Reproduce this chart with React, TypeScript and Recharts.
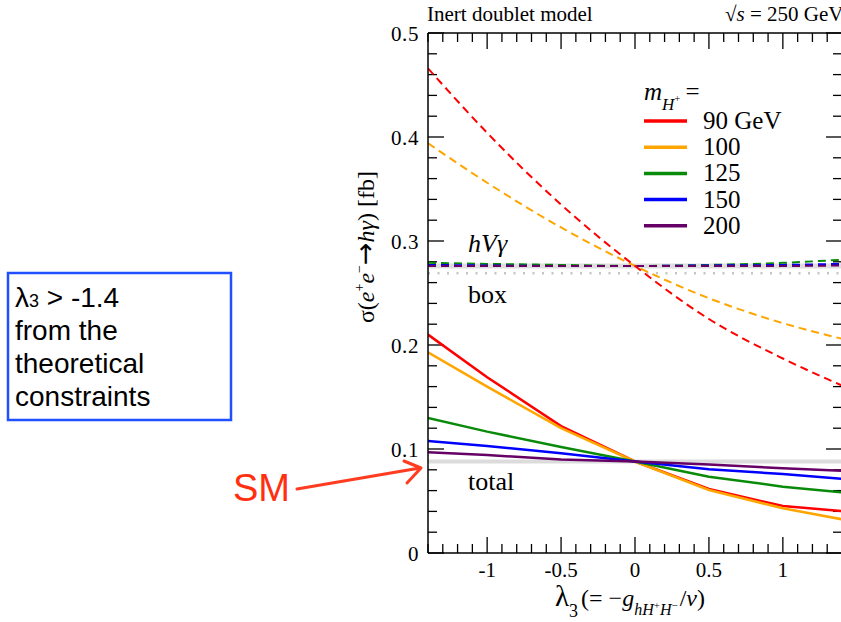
import React from "react";
import { ComposedChart, Line, XAxis, YAxis, ReferenceLine } from "recharts";

// λ3 sample points
const LAMBDA3 = [-1.4, -1, -0.5, 0, 0.5, 1, 1.4];

const MASS_LABELS = ["90 GeV", "100", "125", "150", "200"];
const COLORS = ["#ff0000", "#ffa500", "#0a8a0a", "#0000ff", "#660066"];

// hVγ contribution (dashed)
const HVG_90 = [0.466, 0.404, 0.335, 0.276, 0.225, 0.187, 0.161];
const HVG_100 = [0.394, 0.356, 0.313, 0.276, 0.245, 0.221, 0.206];
const HVG_125 = [0.279, 0.278, 0.277, 0.276, 0.277, 0.279, 0.282];
const HVG_150 = [0.277, 0.2765, 0.276, 0.276, 0.2765, 0.277, 0.278];
const HVG_200 = [0.276, 0.276, 0.276, 0.276, 0.276, 0.276, 0.2765];

// total (solid)
const TOTAL_90 = [0.21, 0.169, 0.122, 0.088, 0.0615, 0.0452, 0.0404];
const TOTAL_100 = [0.193, 0.16, 0.12, 0.088, 0.0606, 0.043, 0.0324];
const TOTAL_125 = [0.1298, 0.1167, 0.102, 0.088, 0.0734, 0.0638, 0.0583];
const TOTAL_150 = [0.1077, 0.1029, 0.0959, 0.088, 0.0805, 0.076, 0.0712];
const TOTAL_200 = [0.0968, 0.0942, 0.09, 0.088, 0.085, 0.0816, 0.079];

// SM reference values
const SM_HVG = 0.276;
const SM_BOX = 0.269;
const SM_TOTAL = 0.088;

const X_DOMAIN = [-1.4, 1.4];
const Y_DOMAIN = [0, 0.5];
const X_LABELS = [-1, -0.5, 0, 0.5, 1];
const Y_LABELS = [0, 0.1, 0.2, 0.3, 0.4, 0.5];
const X_MINOR = Array.from({ length: 29 }, (_, i) => Math.round((-1.4 + i * 0.1) * 10) / 10);
const Y_MINOR = Array.from({ length: 26 }, (_, i) => (i * 2) / 100);

const HVG = [HVG_90, HVG_100, HVG_125, HVG_150, HVG_200];
const TOTAL = [TOTAL_90, TOTAL_100, TOTAL_125, TOTAL_150, TOTAL_200];

const data = LAMBDA3.map((l, i) => {
  const row: Record<string, number> = { l, smHvg: SM_HVG, smBox: SM_BOX, smTot: SM_TOTAL };
  HVG.forEach((s, j) => (row[`h${j}`] = s[i]));
  TOTAL.forEach((s, j) => (row[`t${j}`] = s[i]));
  return row;
});

// plot frame (px)
const PL = 428, PR = 842, PT = 33, PB = 553;
const SERIF = "'Liberation Serif', 'Times New Roman', serif";
const SANS = "'Liberation Sans', Arial, sans-serif";

const near = (a: number, b: number) => Math.abs(a - b) < 1e-6;
const majorX = (v: number) => near(v * 2, Math.round(v * 2));
const majorY = (v: number) => near(v * 10, Math.round(v * 10));

// inward tick marks as short segments in data units
const X_PER_PX = (X_DOMAIN[1] - X_DOMAIN[0]) / (PR - PL);
const Y_PER_PX = (Y_DOMAIN[1] - Y_DOMAIN[0]) / (PB - PT);
type Pt = { x: number; y: number };
const tickSegs: [Pt, Pt][] = [];
for (const v of X_MINOR) {
  const d = (majorX(v) ? 16 : 9) * Y_PER_PX;
  tickSegs.push([{ x: v, y: Y_DOMAIN[0] }, { x: v, y: Y_DOMAIN[0] + d }]);
  tickSegs.push([{ x: v, y: Y_DOMAIN[1] }, { x: v, y: Y_DOMAIN[1] - d }]);
}
for (const v of Y_MINOR) {
  const d = (majorY(v) ? 16 : 9) * X_PER_PX;
  tickSegs.push([{ x: X_DOMAIN[0], y: v }, { x: X_DOMAIN[0] + d, y: v }]);
  tickSegs.push([{ x: X_DOMAIN[1], y: v }, { x: X_DOMAIN[1] - d, y: v }]);
}

function BottomTick({ x, payload }: any) {
  return (
    <text x={x} y={PB + 24} textAnchor="middle" fontFamily={SERIF} fontSize={21} fill="#000">
      {String(payload.value)}
    </text>
  );
}

function LeftTick({ y, payload }: any) {
  return (
    <text x={PL - 9} y={y + 8} textAnchor="end" fontFamily={SERIF} fontSize={21} letterSpacing={0.6} fill="#000">
      {String(payload.value)}
    </text>
  );
}

function Overlay() {
  return (
    <svg width={841} height={622} style={{ position: "absolute", left: 0, top: 0, pointerEvents: "none" }}>
      {/* header */}
      <text x={427} y={21} fontFamily={SERIF} fontSize={21}>Inert doublet model</text>
      <text x={725} y={21} fontFamily={SERIF} fontSize={21}>
        √<tspan fontStyle="italic">s</tspan> = 250 GeV
      </text>

      {/* legend */}
      <text x={644} y={100} fontFamily={SERIF} fontSize={25}>
        <tspan fontStyle="italic">m</tspan>
        <tspan fontStyle="italic" fontSize={17} dy={10}>H</tspan>
        <tspan fontSize={11} dy={-8}>+</tspan>
        <tspan dy={-2} dx={5}>=</tspan>
      </text>
      {MASS_LABELS.map((m, i) => {
        const y = 121 + i * 26.2;
        return (
          <g key={m}>
            <line x1={644} x2={687} y1={y} y2={y} stroke={COLORS[i]} strokeWidth={3.5} />
            <text x={703} y={y + 8} fontFamily={SERIF} fontSize={25}>{m}</text>
          </g>
        );
      })}

      {/* curve labels */}
      <text x={468} y={252} fontFamily={SERIF} fontSize={26} fontStyle="italic">hVγ</text>
      <text x={468} y={303} fontFamily={SERIF} fontSize={26}>box</text>
      <text x={468} y={490} fontFamily={SERIF} fontSize={26}>total</text>

      {/* y label */}
      <text transform="translate(374,247) rotate(-90)" textAnchor="middle" fontFamily={SERIF} fontSize={24}>
        σ(<tspan fontStyle="italic">e</tspan>
        <tspan fontSize={14} dy={-10}>+</tspan>
        <tspan fontStyle="italic" dy={10}>e</tspan>
        <tspan fontSize={14} dy={-10}>−</tspan>
        <tspan dy={10} fontFamily="'DejaVu Sans', sans-serif" fontSize={27}>→</tspan>
        <tspan fontStyle="italic">hγ</tspan>) [fb]
      </text>

      {/* x label */}
      <text x={555} y={606} fontFamily={SERIF} fontSize={24}>
        <tspan fontSize={29}>λ</tspan>
        <tspan fontSize={18} dy={11}>3</tspan>
        <tspan dy={-11} dx={3}>(= −</tspan>
        <tspan fontStyle="italic">g</tspan>
        <tspan fontSize={16} fontStyle="italic" dy={9}>hH</tspan>
        <tspan fontSize={11} dy={-6}>+</tspan>
        <tspan fontSize={16} fontStyle="italic" dy={6}>H</tspan>
        <tspan fontSize={11} dy={-6}>−</tspan>
        <tspan dy={-3} dx={2}>/</tspan>
        <tspan fontStyle="italic">v</tspan>
        <tspan>)</tspan>
      </text>

      {/* constraint box */}
      <rect x={8} y={273} width={223} height={147} fill="none" stroke="#1f4fff" strokeWidth={2.5} />
      <text fontFamily={SANS} fontSize={28} fill="#000">
        <tspan x={15} y={307}>λ<tspan fontSize={18}>3</tspan> &gt; -1.4</tspan>
        <tspan x={15} y={340}>from the</tspan>
        <tspan x={15} y={373}>theoretical</tspan>
        <tspan x={15} y={406}>constraints</tspan>
      </text>

      {/* SM arrow */}
      <text x={233} y={501} fontFamily={SANS} fontSize={38} fill="#ff3010">SM</text>
      <path d="M 297 489 L 420 468 M 404 461 L 421 468 L 407 483" fill="none" stroke="#ff3b20" strokeWidth={3} strokeLinecap="round" strokeLinejoin="round" />
    </svg>
  );
}

export default function App() {
  const axisLine = { stroke: "#000", strokeWidth: 1.5 };
  return (
    <div style={{ position: "absolute", left: 0, top: 0, width: 841, height: 622, overflow: "hidden", background: "#fff" }}>
      <ComposedChart width={900} height={622} data={data} margin={{ top: PT, right: 900 - PR, bottom: 622 - PB - 30, left: PL - 40 }}>
        <XAxis xAxisId="b" dataKey="l" type="number" domain={X_DOMAIN} allowDataOverflow ticks={X_LABELS} interval={0}
          height={30} tickLine={false} axisLine={axisLine} tick={<BottomTick />} />
        <YAxis yAxisId="l" type="number" domain={Y_DOMAIN} allowDataOverflow ticks={Y_LABELS} interval={0}
          width={40} tickLine={false} axisLine={axisLine} tick={<LeftTick />} />

        {/* top / right frame */}
        <ReferenceLine xAxisId="b" yAxisId="l" y={Y_DOMAIN[1]} stroke="#000" strokeWidth={1.5} />
        <ReferenceLine xAxisId="b" yAxisId="l" x={X_DOMAIN[1]} stroke="#000" strokeWidth={1.5} />
        {tickSegs.map((seg, i) => (
          <ReferenceLine key={`tk${i}`} xAxisId="b" yAxisId="l" segment={seg} stroke="#000" strokeWidth={1.3} ifOverflow="visible" />
        ))}

        {/* SM reference lines */}
        <Line xAxisId="b" yAxisId="l" dataKey="smHvg" stroke="#dedede" strokeWidth={5} dot={false} isAnimationActive={false} />
        <Line xAxisId="b" yAxisId="l" dataKey="smBox" stroke="#c4c4c4" strokeWidth={2.5} strokeDasharray="2 7.5" dot={false} isAnimationActive={false} />
        <Line xAxisId="b" yAxisId="l" dataKey="smTot" stroke="#dcdcdc" strokeWidth={4} dot={false} isAnimationActive={false} />

        {/* hVγ, dashed */}
        {[2, 3, 4, 1, 0].map((j) => (
          <Line key={`h${j}`} xAxisId="b" yAxisId="l" dataKey={`h${j}`} type="monotone" stroke={COLORS[j]} strokeWidth={2}
            strokeDasharray="8 5" dot={false} isAnimationActive={false} />
        ))}

        {/* total, solid */}
        {[0, 1, 2, 3, 4].map((j) => (
          <Line key={`t${j}`} xAxisId="b" yAxisId="l" dataKey={`t${j}`} type="linear" stroke={COLORS[j]} strokeWidth={2.5}
            dot={false} isAnimationActive={false} />
        ))}
      </ComposedChart>
      <Overlay />
    </div>
  );
}
